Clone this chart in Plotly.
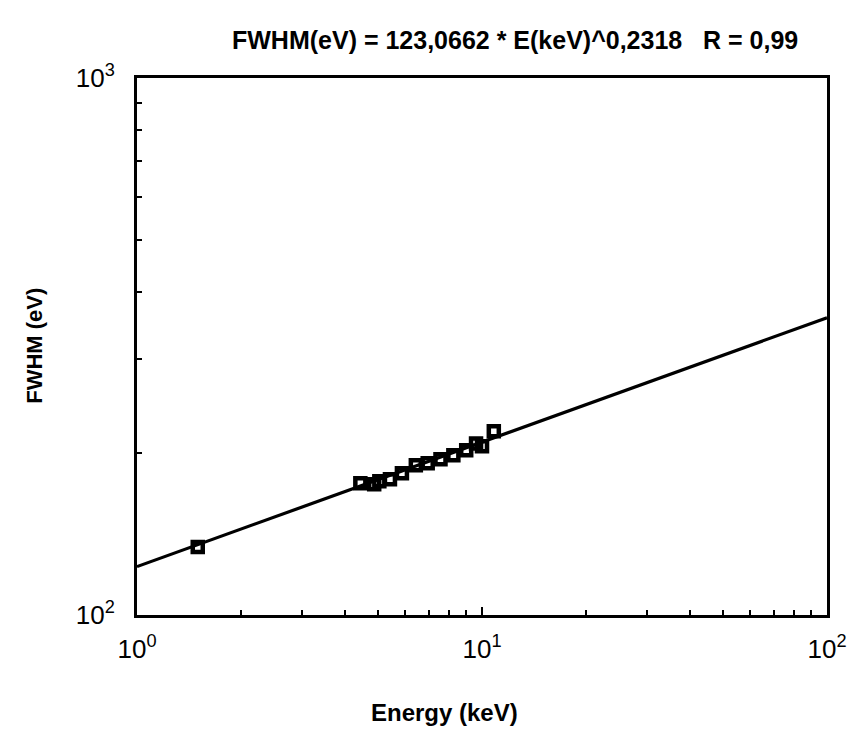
import plotly.graph_objects as go

energy_kev = [1.50, 4.44, 4.87, 5.04, 5.41, 5.86, 6.43, 6.96, 7.58, 8.26, 9.00, 9.61, 10.0, 10.82]
fwhm_ev = [133.8, 176.0, 175.2, 177.5, 179.0, 183.6, 190.0, 191.6, 195.0, 198.4, 202.6, 208.7, 206.1, 219.8]

# Fitted power law endpoints (FWHM = 123.0662 * E^0.2318)
fit_x = [1.0, 100.0]
fit_y = [123.07, 357.8]

x_tickvals = [1, 10, 100]
x_ticktext = ["10<sup>0</sup>", "10<sup>1</sup>", "10<sup>2</sup>"]
y_tickvals = [100, 1000]
y_ticktext = ["10<sup>2</sup>", "10<sup>3</sup>"]

title_text = "FWHM(eV) = 123,0662 * E(keV)^0,2318   R = 0,99"
x_title = "Energy (keV)"
y_title = "FWHM (eV)"

FONT = "Liberation Sans, Arial, Helvetica, sans-serif"
W, H = 859, 737
ML, MR, MT, MB = 137, 27, 78, 122
PW, PH = W - ML - MR, H - MT - MB


def px_to_paper(x, y):
    return (x - ML) / PW, (H - MB - y) / PH


fig = go.Figure()
fig.add_trace(go.Scatter(
    x=fit_x, y=fit_y, mode="lines",
    line=dict(color="black", width=3.2), showlegend=False, hoverinfo="skip"))
fig.add_trace(go.Scatter(
    x=energy_kev, y=fwhm_ev, mode="markers",
    marker=dict(symbol="square-open", size=10, color="black",
                line=dict(color="black", width=4.5)),
    showlegend=False))

axis_common = dict(
    type="log", showgrid=False, zeroline=False,
    showline=True, linecolor="black", linewidth=3, mirror=True,
    ticks="inside", ticklen=8, tickwidth=2, tickcolor="black",
    tickmode="array",
    tickfont=dict(family=FONT, size=26, color="black"),
    minor=dict(ticks="inside", ticklen=5, tickwidth=2, tickcolor="black", dtick="D1"),
)

annots = []
tx, ty = px_to_paper(518, 40)
annots.append(dict(text="<b>" + title_text + "</b>", x=tx, y=ty, xref="paper", yref="paper",
                   showarrow=False, xanchor="center", yanchor="middle",
                   font=dict(size=25, family=FONT, color="black")))
ex, ey = px_to_paper(447, 712)
annots.append(dict(text="<b>" + x_title + "</b>", x=ex, y=ey, xref="paper", yref="paper",
                   showarrow=False, xanchor="center", yanchor="middle",
                   font=dict(size=24, family=FONT, color="black")))
fx, fy = px_to_paper(33, 346)
annots.append(dict(text="<b>" + y_title + "</b>", x=fx, y=fy, xref="paper", yref="paper",
                   showarrow=False, xanchor="center", yanchor="middle", textangle=-90,
                   font=dict(size=22, family=FONT, color="black")))

fig.update_layout(
    width=W, height=H,
    paper_bgcolor="white", plot_bgcolor="white",
    margin=dict(l=ML, r=MR, t=MT, b=MB),
    font=dict(family=FONT, color="black"),
    xaxis=dict(**axis_common, range=[0, 2], tickvals=x_tickvals, ticktext=x_ticktext,
               ticklabelstandoff=9),
    yaxis=dict(**axis_common, range=[2, 3], tickvals=y_tickvals, ticktext=y_ticktext,
               ticklabelstandoff=14),
    annotations=annots,
)

fig.write_html("out.html")
